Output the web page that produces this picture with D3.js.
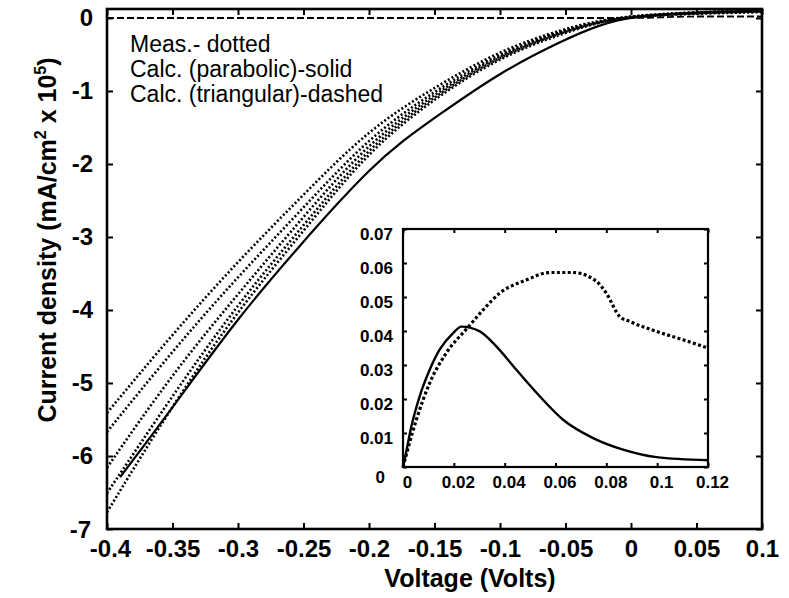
<!DOCTYPE html>
<html>
<head>
<meta charset="utf-8">
<script src="https://cdn.jsdelivr.net/npm/d3@7"></script>
<style>
  body{margin:0;background:#fff;}
  svg{display:block;font-family:"Liberation Sans",Arial,Helvetica,sans-serif;}
  .tick line{stroke:#000;stroke-width:2;}
  .tick text{fill:#000;font-weight:bold;}
</style>
</head>
<body>
<div id="chart"></div>
<script>
/* I-V curves: measured (dotted) vs calculated (solid parabolic, dashed triangular),
   with an inset of the low-voltage region. Values read off the published figure. */

// main panel
var voltage=[-0.4,-0.35,-0.3,-0.25,-0.2,-0.15,-0.1,-0.05,-0.025,0,0.05,0.1];
var meas1=[-5.41,-4.33,-3.33,-2.42,-1.52,-0.95,-0.44,-0.14,-0.04,0.03,0.08,0.10];
var meas2=[-5.67,-4.56,-3.54,-2.60,-1.63,-1.00,-0.47,-0.16,-0.05,0.03,0.08,0.10];
var meas3=[-6.16,-4.87,-3.78,-2.72,-1.70,-1.04,-0.49,-0.17,-0.05,0.02,0.07,0.09];
var meas4=[-6.51,-5.17,-3.91,-2.84,-1.76,-1.07,-0.51,-0.18,-0.06,0.02,0.07,0.09];
var meas5=[-6.77,-5.30,-4.00,-2.92,-1.81,-1.10,-0.53,-0.20,-0.06,0.02,0.06,0.08];
var parabolicV=[-0.39,-0.35,-0.3,-0.25,-0.225,-0.2,-0.175,-0.15,-0.1,-0.05,-0.025,0,0.05,0.1];
var parabolicI=[-6.29,-5.34,-4.10,-3.06,-2.56,-2.08,-1.69,-1.37,-0.74,-0.29,-0.10,0.02,0.08,0.10];
var triangularI=[0,0,0,0,0,0,0,0,0,0,0.02,0.02];
var xTicks=[-0.4,-0.35,-0.3,-0.25,-0.2,-0.15,-0.1,-0.05,0,0.05,0.1];
var yTicks=[0,-1,-2,-3,-4,-5,-6,-7];
var legendLines=["Meas.- dotted","Calc. (parabolic)-solid","Calc. (triangular)-dashed"];

// inset
var insetSolidX=[0,0.00066,0.00328,0.00656,0.0105,0.0144,0.0197,0.023,0.0302,0.0367,0.0446,0.0538,0.063,0.0748,0.0866,0.0997,0.12];
var insetSolidY=[0,0.0022,0.0119,0.0208,0.0286,0.0345,0.0394,0.0413,0.0399,0.0355,0.0286,0.0208,0.0139,0.0085,0.0051,0.0029,0.002];
var insetDotX=[0,0.00525,0.0105,0.017,0.0256,0.0315,0.038,0.0485,0.0577,0.0669,0.0761,0.08,0.0852,0.0892,0.0997,0.1102,0.12];
var insetDotY=[0,0.0139,0.0247,0.0335,0.0411,0.0462,0.0511,0.055,0.0572,0.0572,0.0546,0.0511,0.0443,0.0428,0.0399,0.0374,0.035];
var insetXTicks=[0,0.02,0.04,0.06,0.08,0.1,0.12];
var insetYTicks=[0,0.01,0.02,0.03,0.04,0.05,0.06,0.07];

var W=789,H=598;
var svg=d3.select("#chart").append("svg").attr("width",W).attr("height",H);
function fmt(v){return String(+v.toFixed(3));}

var x=d3.scaleLinear().domain([-0.4,0.1]).range([107,762]);
var y=d3.scaleLinear().domain([-7,0.123]).range([529,9]);

var gx=svg.append("g").attr("transform","translate(0,529)")
  .call(d3.axisBottom(x).tickValues(xTicks).tickSize(-6).tickSizeOuter(0).tickPadding(11).tickFormat(fmt));
svg.append("g").attr("transform","translate(0,9)")
  .call(d3.axisTop(x).tickValues(xTicks).tickSize(-6).tickSizeOuter(0).tickFormat(""));
var gy=svg.append("g").attr("transform","translate(107,0)")
  .call(d3.axisLeft(y).tickValues(yTicks).tickSize(-6).tickSizeOuter(0).tickPadding(14).tickFormat(fmt));
svg.append("g").attr("transform","translate(762,0)")
  .call(d3.axisRight(y).tickValues(yTicks).tickSize(-6).tickSizeOuter(0).tickFormat(""));
svg.selectAll(".domain").remove();
gx.selectAll("text").style("font-size","24px");
gy.selectAll("text").style("font-size","24px");
gy.selectAll(".tick").filter(function(d){return d===-7;}).select("text").attr("x",-16).attr("y",1);
gx.selectAll(".tick").filter(function(d){return d===-0.4;}).select("text").attr("dx",3);

svg.append("rect").attr("x",107).attr("y",9).attr("width",655).attr("height",520)
  .attr("fill","none").attr("stroke","#000").attr("stroke-width",2.6);

var line=d3.line().curve(d3.curveMonotoneX);
var smooth=d3.line().curve(d3.curveBasis);
function pts(xs,ys,sx,sy){return xs.map(function(v,i){return [sx(v),sy(ys[i])];});}
var plot=svg.append("g");

plot.append("path").attr("d",line(pts(voltage,triangularI,x,y)))
  .attr("fill","none").attr("stroke","#000").attr("stroke-width",1.8).attr("stroke-dasharray","7,3");
[meas1,meas2,meas3,meas4,meas5].forEach(function(s){
  plot.append("path").attr("d",smooth(pts(voltage,s,x,y)))
    .attr("fill","none").attr("stroke","#000").attr("stroke-width",2.6).attr("stroke-dasharray","2,2.2");
});
plot.append("path").attr("d",smooth(pts(parabolicV,parabolicI,x,y)))
  .attr("fill","none").attr("stroke","#000").attr("stroke-width",2.2);

svg.append("text").attr("x",130).attr("y",52).style("font-size","23px")
  .selectAll("tspan").data(legendLines).join("tspan")
  .attr("x",130).attr("dy",function(d,i){return i?25:0;}).text(function(d){return d;});

// axis titles
svg.append("text").attr("x",470).attr("y",587).attr("text-anchor","middle")
  .style("font-size","25px").style("font-weight","bold").text("Voltage (Volts)");
var yt=svg.append("text").attr("transform","translate(56,240) rotate(-90)").attr("text-anchor","middle")
  .style("font-size","25px").style("font-weight","bold");
yt.append("tspan").text("Current density (mA/cm");
yt.append("tspan").attr("dy",-10).style("font-size","16px").text("2");
yt.append("tspan").attr("dy",10).text(" x 10");
yt.append("tspan").attr("dy",-10).style("font-size","16px").text("5");
yt.append("tspan").attr("dy",10).text(")");

// inset
var ix=d3.scaleLinear().domain([0,0.12]).range([403,708]);
var iy=d3.scaleLinear().domain([0,0.07]).range([467,229]);
var inset=svg.append("g");
inset.append("rect").attr("x",403).attr("y",229).attr("width",305).attr("height",238).attr("fill","#fff");
var igx=inset.append("g").attr("transform","translate(0,467)")
  .call(d3.axisBottom(ix).tickValues(insetXTicks).tickSize(-4).tickSizeOuter(0).tickPadding(9).tickFormat(fmt));
inset.append("g").attr("transform","translate(0,229)")
  .call(d3.axisTop(ix).tickValues(insetXTicks).tickSize(-4).tickSizeOuter(0).tickFormat(""));
var igy=inset.append("g").attr("transform","translate(403,0)")
  .call(d3.axisLeft(iy).tickValues(insetYTicks).tickSize(-4).tickSizeOuter(0).tickPadding(10).tickFormat(fmt));
inset.append("g").attr("transform","translate(708,0)")
  .call(d3.axisRight(iy).tickValues(insetYTicks).tickSize(-4).tickSizeOuter(0).tickFormat(""));
inset.selectAll(".domain").remove();
inset.selectAll(".tick line").attr("stroke-width",1.5);
igx.selectAll("text").style("font-size","17px").attr("dx",4);
igy.selectAll("text").style("font-size","17px").attr("dy","0.6em");
igy.selectAll(".tick").filter(function(d){return d===0;}).select("text").attr("x",-18).attr("dy","0.9em");
inset.append("rect").attr("x",403).attr("y",229).attr("width",305).attr("height",238)
  .attr("fill","none").attr("stroke","#000").attr("stroke-width",2.2);
inset.append("path").attr("d",line(pts(insetDotX,insetDotY,ix,iy)))
  .attr("fill","none").attr("stroke","#000").attr("stroke-width",3.2).attr("stroke-dasharray","3,2.4");
inset.append("path").attr("d",line(pts(insetSolidX,insetSolidY,ix,iy)))
  .attr("fill","none").attr("stroke","#000").attr("stroke-width",2.4);
</script>
</body>
</html>
